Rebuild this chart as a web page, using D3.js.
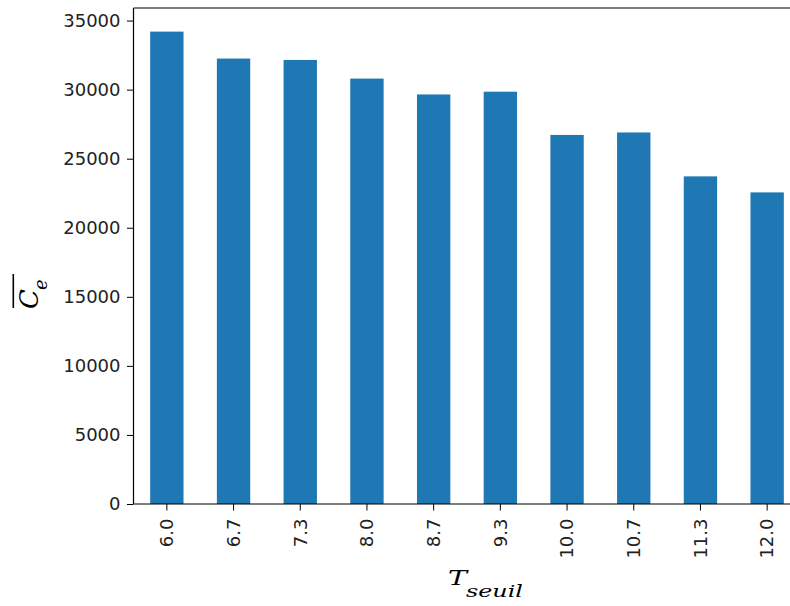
<!DOCTYPE html>
<html>
<head>
<meta charset="utf-8">
<script src="https://cdn.jsdelivr.net/npm/d3@7"></script>
<style>
html,body{margin:0;padding:0;background:#fff;}
svg{display:block;}
</style>
</head>
<body>
<svg id="chart" width="790" height="606"></svg>
<script>
const categories = ["6.0","6.7","7.3","8.0","8.7","9.3","10.0","10.7","11.3","12.0"];
const values = [34200, 32250, 32150, 30800, 29650, 29850, 26720, 26900, 23720, 22560];
const yTicks = [0, 5000, 10000, 15000, 20000, 25000, 30000, 35000];

(function () {
const svg = d3.select("#chart");
const pLeft = 133.5, pRight = 800.5, pTop = 8, pBottom = 504;

const x = d3.scaleBand().domain(categories).range([pLeft, pRight]).paddingInner(0.5).paddingOuter(0.25);
const y = d3.scaleLinear().domain([0, d3.max(values) * 1.05]).range([pBottom, pTop]);

// bars
svg.append("g").selectAll("rect").data(categories).join("rect")
  .attr("x", d => x(d))
  .attr("width", x.bandwidth())
  .attr("y", (d, i) => y(values[i]))
  .attr("height", (d, i) => pBottom - y(values[i]))
  .attr("fill", "#1f77b4");

// y axis
const yAxis = svg.append("g").attr("transform", `translate(${pLeft},0)`)
  .call(d3.axisLeft(y).tickValues(yTicks).tickSize(6.5).tickPadding(6.5).tickFormat(d3.format("d")));
yAxis.select(".domain").remove();
yAxis.selectAll(".tick line").attr("stroke", "#000").attr("stroke-width", 1);
yAxis.selectAll(".tick text").attr("font-family", "DejaVu Sans").attr("font-size", 18).attr("fill", "#222");

// x axis
const xAxis = svg.append("g").attr("transform", `translate(0,${pBottom})`)
  .call(d3.axisBottom(x).tickSize(6.5).tickPadding(0));
xAxis.select(".domain").remove();
xAxis.selectAll(".tick line").attr("stroke", "#000").attr("stroke-width", 1);
xAxis.selectAll(".tick text")
  .attr("font-family", "DejaVu Sans").attr("font-size", 18).attr("fill", "#222")
  .attr("transform", "rotate(-90)")
  .attr("text-anchor", "end")
  .attr("x", -14.5).attr("y", 0).attr("dy", "0.35em");

// spines
const sp = svg.append("g").attr("stroke", "#000").attr("stroke-width", 1.2).attr("fill", "none");
sp.append("line").attr("x1", pLeft).attr("x2", pLeft).attr("y1", pTop).attr("y2", pBottom);
sp.append("line").attr("x1", pLeft).attr("x2", pRight).attr("y1", pBottom).attr("y2", pBottom);
sp.append("line").attr("x1", pLeft).attr("x2", pRight).attr("y1", pTop).attr("y2", pTop);
sp.append("line").attr("x1", pRight).attr("x2", pRight).attr("y1", pTop).attr("y2", pBottom);

// x label: T_seuil
const xl = svg.append("g").attr("font-family", "DejaVu Serif").attr("font-style", "italic").attr("fill", "#000");
xl.append("text").attr("x", 448).attr("y", 584.5).attr("font-size", 20)
  .attr("textLength", 19).attr("lengthAdjust", "spacingAndGlyphs").text("T");
xl.append("text").attr("x", 466).attr("y", 596.5).attr("font-size", 17)
  .attr("textLength", 57).attr("lengthAdjust", "spacingAndGlyphs").text("seuil");

// y label: overline C_e
const yl = svg.append("g").attr("transform", "translate(38,308) rotate(-90)")
  .attr("font-family", "DejaVu Serif").attr("font-style", "italic").attr("fill", "#000");
yl.append("text").attr("x", -1).attr("y", 0).attr("font-size", 26).text("C");
yl.append("text").attr("x", 18).attr("y", 9).attr("font-size", 18).text("e");
yl.append("line").attr("x1", 0).attr("x2", 34).attr("y1", -24.7).attr("y2", -24.7)
  .attr("stroke", "#000").attr("stroke-width", 1.6);
})();
</script>
</body>
</html>
